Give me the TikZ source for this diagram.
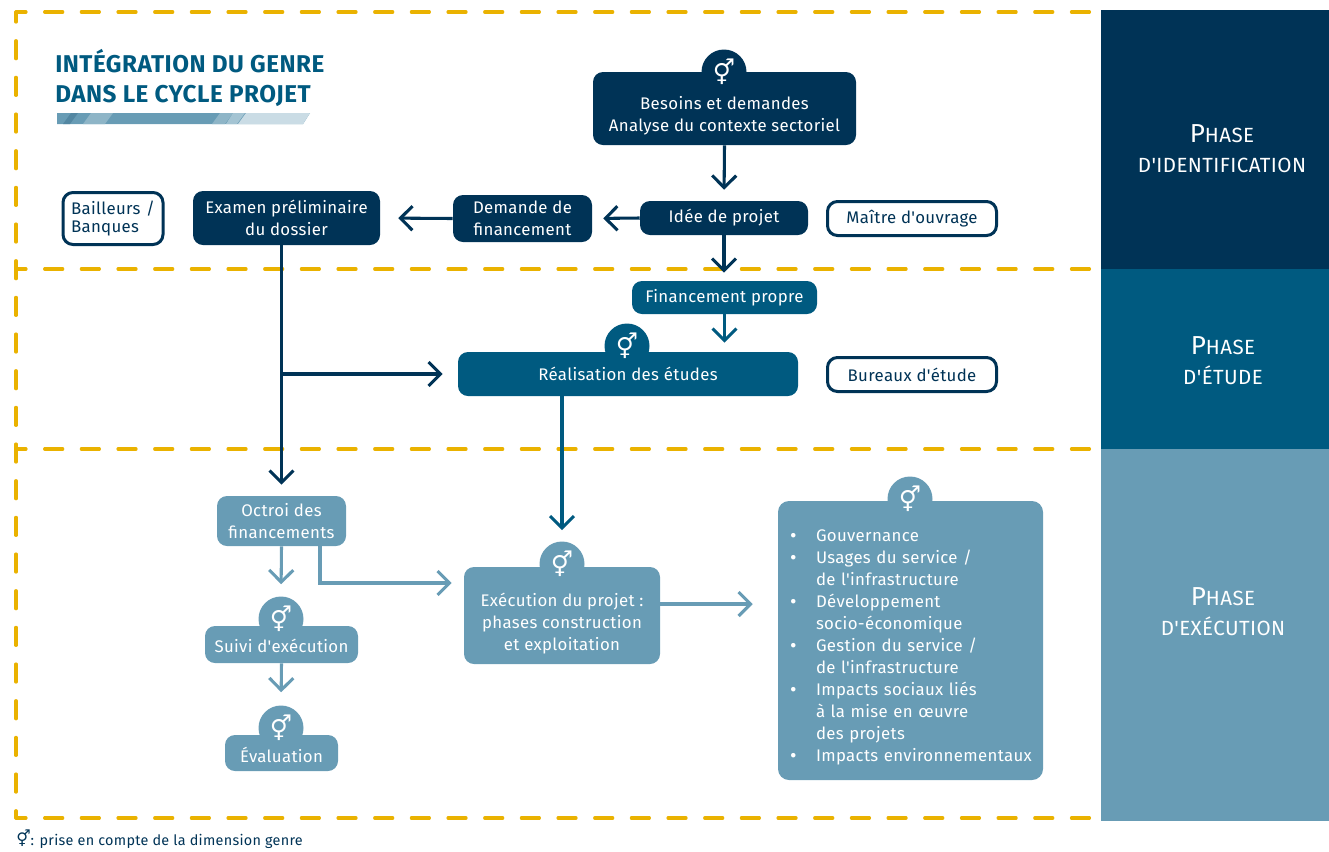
\documentclass[tikz,border=0pt]{standalone}
\usepackage{fontspec}
\setmainfont[LetterSpace=2,Ligatures=TeXOff]{Fira Sans}
\newfontfamily\symbfont{DejaVu Sans}
\usetikzlibrary{backgrounds, positioning, arrows.meta}
\definecolor{navy}{HTML}{003356}
\definecolor{teal}{HTML}{005A80}
\definecolor{steel}{HTML}{689CB5}
\definecolor{gold}{HTML}{EAB200}
\newlength{\px}
\setlength{\px}{0.75pt}
\newcommand\genresign{{\symbfont\symbol{"26A5}}}
\newcommand\capitale{\fontsize{19.5}{20}\selectfont}
\newcommand\petite{\fontsize{15.4}{20}\selectfont}
\newcommand\puce{\makebox[31\px][l]{\hspace*{5\px}\raisebox{-0.5pt}{\fontsize{15}{16.5}\selectfont\textbullet}}}
\newcommand\suite{\hspace*{31\px}}
\newcommand\topgap[1]{\rule{0pt}{#1}}
\begin{document}
\begin{tikzpicture}
    [
      x=0.75pt,
      y=-0.75pt,
      every node/.style={font=\fontsize{12.6}{16.5}\selectfont,inner sep=0pt,align=center},
      box/.style={rectangle,rounded corners=10\px,text=white},
      navybox/.style={box,fill=navy},
      tealbox/.style={box,fill=teal},
      steelbox/.style={box,fill=steel},
      actor/.style={box,fill=white,draw=navy,line width=3\px,text=navy},
      panel/.style={rectangle,minimum width=228\px},
      phase/.style={text=white},
      bump/.style={circle,minimum size=45\px},
      sign/.style={text=white,font=\fontsize{18.5}{18.5}\selectfont},
      dashline/.style={gold,line width=3.2\px,line cap=round,dash pattern=on 18\px off 18.67\px,dash phase=8\px},
      flow/.style={line width=2.3pt,-{Straight Barb[length=9pt,width=18pt]}},
    ]
    \useasboundingbox (0, 0) rectangle (1329, 851);

    \node at (1215, 139.5) [panel, fill=navy, minimum height=259\px] (pident) {};
    \node at (1215, 359) [panel, fill=teal, minimum height=180\px] (petude) {};
    \node at (1215, 635) [panel, fill=steel, minimum height=372\px] (pexec) {};
    \node at (1222, 149) [phase] (tident) {{\capitale P}{\petite HASE}\\[8\px]{\petite D'IDENTIFICATION}};
    \node at (1223, 361) [phase] (tetude) {{\capitale P}{\petite HASE}\\[8\px]{\petite D'ÉTUDE}};
    \node at (1223, 612) [phase] (texec) {{\capitale P}{\petite HASE}\\[8\px]{\petite D'EXÉCUTION}};

    \draw [dashline] (16, 12) -- (1100, 12);
    \draw [dashline] (16, 269) -- (1100, 269);
    \draw [dashline] (16, 449) -- (1100, 449);
    \draw [dashline] (16, 818) -- (1100, 818);
    \draw [dashline] (16, 12) -- (16, 818);

    \node at (55, 78) [anchor=west, text=teal, align=left, font=\fontsize{18.2}{22.5}\bfseries\selectfont] (title) {INTÉGRATION DU GENRE\\DANS LE CYCLE PROJET};
    \fill [steel] (57, 124) -- (57, 113) -- (310, 113) -- (303, 124) -- cycle;
    \fill [steel!80!navy] (63, 124) -- (71, 113) -- (78, 113) -- (70, 124) -- cycle;
    \fill [steel!75!white] (83, 124) -- (91, 113) -- (113, 113) -- (105, 124) -- cycle;
    \fill [steel!75!white] (212, 124) -- (220, 113) -- (233, 113) -- (225, 124) -- cycle;
    \fill [steel!60!white] (226, 124) -- (233, 113) -- (245, 113) -- (237, 124) -- cycle;
    \fill [steel!35!white] (238, 124) -- (246, 113) -- (310, 113) -- (303, 124) -- cycle;

    \begin{scope}[on background layer]
      \foreach \name/\cx/\cy/\col in {besoins/724/72/navy, real/627/346/teal, exec/562/564/steel, suivi/281/619/steel, eval/281/728/steel, liste/910/499/steel}
        \node at (\cx, \cy) [bump, fill=\col] (g\name) {};
    \end{scope}

    \node at (724.5, 108.5) [navybox, minimum width=263\px, minimum height=73\px] (besoins) {\topgap{21pt}Besoins et demandes\\Analyse du contexte sectoriel};
    \node at (724, 218) [navybox, minimum width=168\px, minimum height=34\px] (idee) {Idée de projet};
    \node at (912, 218.5) [actor, minimum width=169\px, minimum height=34\px] (maitre) {Maître d'ouvrage};
    \node at (522.5, 218.5) [navybox, minimum width=139\px, minimum height=47\px] (demande) {Demande de\\financement};
    \node at (286.5, 218) [navybox, minimum width=187\px, minimum height=54\px] (examen) {Examen préliminaire\\du dossier};
    \node at (113, 218.5) [actor, minimum width=100\px, minimum height=52\px, align=left, text width=84\px] (bailleurs) {Bailleurs /\\[-4\px]Banques};
    \node at (724.5, 297.5) [tealbox, minimum width=185\px, minimum height=33\px] (propre) {Financement propre};
    \node at (628, 374) [tealbox, minimum width=340\px, minimum height=44\px] (real) {Réalisation des études};
    \node at (912, 374.5) [actor, minimum width=169\px, minimum height=34\px] (bureaux) {Bureaux d'étude};
    \node at (281.5, 521) [steelbox, minimum width=129\px, minimum height=50\px] (octroi) {Octroi des\\financements};
    \node at (281.5, 644.5) [steelbox, minimum width=153\px, minimum height=37\px] (suivi) {\topgap{12pt}Suivi d'exécution};
    \node at (281.5, 753) [steelbox, minimum width=113\px, minimum height=36\px] (eval) {\topgap{15pt}Évaluation};
    \node at (562, 615.5) [steelbox, minimum width=196\px, minimum height=97\px] (exec) {\topgap{22pt}Exécution du projet :\\phases construction\\et exploitation};
    \node at (910.5, 640.5) [steelbox, rounded corners=11\px, minimum width=265\px, minimum height=279\px, align=left, text width=251\px] (liste) {\topgap{19.5pt}\puce Gouvernance\\\puce Usages du service /\\\suite de l'infrastructure\\\puce Développement\\\suite socio-économique\\\puce Gestion du service /\\\suite de l'infrastructure\\\puce Impacts sociaux liés\\\suite à la mise en œuvre\\\suite des projets\\\puce Impacts environnementaux};

    \foreach \name in {besoins, real, exec, suivi, eval, liste}
      \node at (g\name) [sign] (s\name) {\genresign};

    \node at (16, 839.5) [anchor=west, text=navy, font=\fontsize{10.8}{12}\selectfont] (legende) {\raisebox{1pt}{\fontsize{12}{12}\selectfont\genresign}: prise en compte de la dimension genre};

    \coordinate (branch) at (octroi.north |- real.west);
    \coordinate (corner) at (320, 583);
    \coordinate (sortie) at (660, 604);

    \draw [flow, navy, shorten >=11\px] (besoins.south) -- (idee.north);
    \draw [flow, navy, shorten >=11\px] (idee.west) -- (demande.east);
    \draw [flow, navy, shorten >=18\px] (demande.west) -- (examen.east);
    \draw [flow, navy, shorten >=8\px] (idee.south) -- (idee.south |- propre.north);
    \draw [flow, teal, shorten >=9\px] (propre.south) -- (propre.south |- real.north);
    \draw [flow, navy, shorten >=11\px] (octroi.north |- examen.south) -- (octroi.north);
    \draw [flow, navy, shorten >=15\px] (branch) -- (real.west);
    \draw [flow, teal, shorten >=11\px] (gexec.north |- real.south) -- (gexec.north);
    \draw [flow, steel, shorten >=12\px] (octroi.south) -- (gsuivi.north);
    \draw [flow, steel, shorten >=13\px] (suivi.south) -- (geval.north);
    \draw [flow, steel, shorten >=12\px] (corner |- octroi.south) -- (corner) -- (corner -| exec.west);
    \draw [flow, steel, shorten >=25\px] (sortie) -- (sortie -| liste.west);
\end{tikzpicture}
\end{document}
